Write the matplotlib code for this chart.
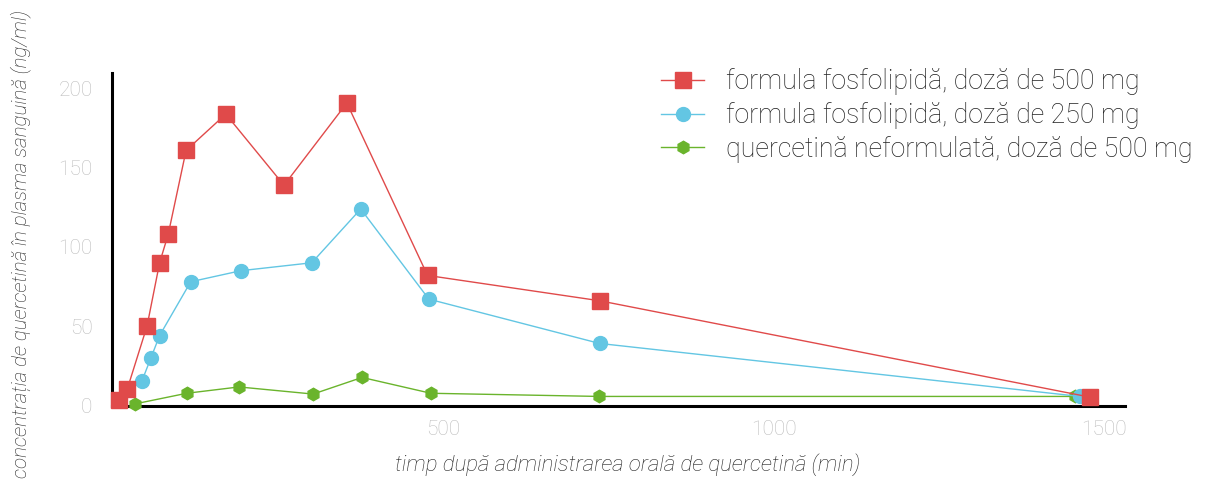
import matplotlib
matplotlib.use('Agg')
import matplotlib.pyplot as plt

plt.rcParams['font.family'] = ['Roboto', 'DejaVu Sans']

# timp (min) si concentratie (ng/ml)
t_500 = [10, 23, 53, 72, 85, 112, 172, 260, 355, 477, 737, 1479]
c_500 = [3, 10, 50, 90, 108, 161, 184, 139, 191, 82, 66, 5]

t_250 = [45, 59, 72, 119, 195, 302, 376, 479, 737, 1463]
c_250 = [15, 30, 44, 78, 85, 90, 124, 67, 39, 5.5]

t_neo = [35, 113, 192, 304, 378, 482, 736, 1455]
c_neo = [0.8, 7.5, 11.5, 7, 17.5, 7.5, 5.5, 5.5]

labels = ['formula fosfolipidă, doză de 500 mg',
          'formula fosfolipidă, doză de 250 mg',
          'quercetină neformulată, doză de 500 mg']
x_ticks = [500, 1000, 1500]
y_ticks = [0, 50, 100, 150, 200]

fig = plt.figure(figsize=(12.08, 4.8), dpi=100)
ax = fig.add_axes([0.0927, 0.154, 0.839, 0.694])

ax.plot(t_500, c_500, color='#e04a4a', lw=1, marker='s', markersize=11.5,
        label=labels[0], clip_on=False, zorder=5)
ax.plot(t_250, c_250, color='#63c6e3', lw=1, marker='o', markersize=10,
        label=labels[1], clip_on=False, zorder=4)
ax.plot(t_neo, c_neo, color='#6ab42c', lw=1, marker='h', markersize=9,
        label=labels[2], clip_on=False, zorder=3)

ax.set_xlim(0, 1532)
ax.set_ylim(-0.6, 210)
ax.set_xticks(x_ticks)
ax.set_yticks(y_ticks)
ax.tick_params(length=0, labelsize=15, labelcolor='#bdbdbd')
ax.tick_params(axis='x', pad=10)
ax.tick_params(axis='y', pad=14)
for lab in ax.get_xticklabels() + ax.get_yticklabels():
    lab.set_fontweight('light')

for s in ['top', 'right']:
    ax.spines[s].set_visible(False)
for s in ['left', 'bottom']:
    ax.spines[s].set_linewidth(2.2)
    ax.spines[s].set_color('black')

ax.set_xlabel('timp după administrarea orală de quercetină (min)', fontsize=16,
              style='italic', fontweight='light', color='#222222')
ax.xaxis.set_label_coords(0.509, -0.175)
ax.set_ylabel('concentrația de quercetină în plasma sanguină (ng/ml)', fontsize=14.8,
              style='italic', fontweight='light', color='#222222')
ax.yaxis.set_label_coords(-0.0907, 0.486)
ax.yaxis.label.set_va('center')
ax.xaxis.label.set_va('center')

leg = fig.legend(loc='upper left', bbox_to_anchor=(648 / 1208, 1 - 55 / 480),
                 frameon=False, borderpad=0, handlelength=1.6,
                 handletextpad=0.8, labelspacing=0.25, prop={'size': 19.3, 'weight': 'light'})
for t in leg.get_texts():
    t.set_color('#222222')

fig.savefig('out.png', dpi=100)
